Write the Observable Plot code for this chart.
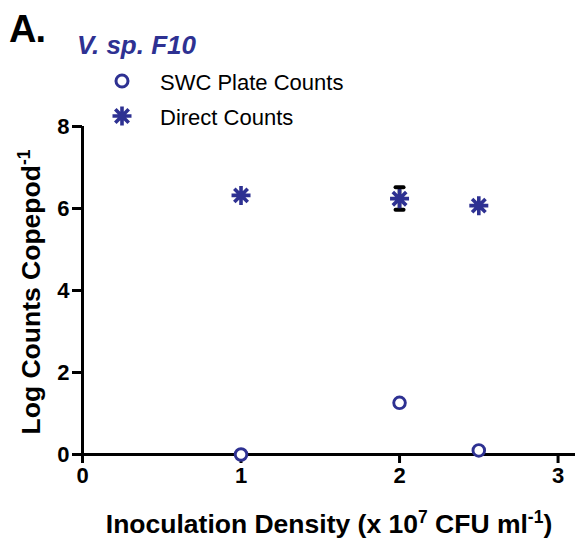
<!DOCTYPE html>
<html>
<head>
<meta charset="utf-8">
<script src="https://cdn.jsdelivr.net/npm/d3@7"></script>
<script src="https://cdn.jsdelivr.net/npm/@observablehq/plot@0.6"></script>
<style>
  html, body { margin: 0; padding: 0; background: #fff; }
  #wrap { position: relative; width: 577px; height: 543px; font-family: "Liberation Sans", Arial, sans-serif; }
  #wrap > svg { position: absolute; left: 0; top: 0; }
  .ov { position: absolute; white-space: nowrap; line-height: 1; }
  .sup { position: relative; top: -0.55em; font-size: 0.66em; }
</style>
</head>
<body>
<div id="wrap"></div>
<script>
// ---- data ----
const navy = "#2e3192";
const xTicks = [0, 1, 2, 3];
const yTicks = [0, 2, 4, 6, 8];
const densities = [1, 2, 2.5];
const swcPlateCounts = [0, 1.26, 0.1];
const directCounts = [6.32, 6.24, 6.07];
const directErrLow = [null, 5.97, null];
const directErrHigh = [null, 6.52, null];

const swc = densities.map((x, i) => ({x, y: swcPlateCounts[i]}));
const direct = densities.map((x, i) => ({x, y: directCounts[i], lo: directErrLow[i], hi: directErrHigh[i]}));
const errs = direct.filter(d => d.lo != null);
const caps = errs.flatMap(d => [{x: d.x, y: d.lo}, {x: d.x, y: d.hi}]);

// custom symbols
const asterisk8 = {
  draw(ctx, size) {
    const r = Math.sqrt(size / Math.PI);
    for (let k = 0; k < 4; k++) {
      const a = k * Math.PI / 4;
      const c = Math.cos(a) * r, s = Math.sin(a) * r;
      ctx.moveTo(c, s); ctx.lineTo(-c, -s);
    }
  }
};
const hcap = {
  draw(ctx, size) {
    const r = Math.sqrt(size / Math.PI);
    ctx.moveTo(-r, 0); ctx.lineTo(r, 0);
  }
};

const font = "Liberation Sans, Arial, sans-serif";

const chart = Plot.plot({
  width: 577,
  height: 543,
  marginLeft: 82,
  marginRight: 2,
  marginTop: 126,
  marginBottom: 89,
  style: {fontFamily: font, fontWeight: "bold", color: "#000", background: "transparent"},
  x: {domain: [0, 3.11]},
  y: {domain: [0, 8]},
  marks: [
    Plot.axisX({ticks: xTicks, tickSize: 9, tickPadding: 4, strokeWidth: 3, strokeOpacity: 1, fontSize: 22, fontWeight: "bold", label: null, tickFormat: d => String(d)}),
    Plot.axisY({ticks: yTicks, tickSize: 10, tickPadding: 3, strokeWidth: 3, strokeOpacity: 1, fontSize: 22, fontWeight: "bold", label: null, tickFormat: d => String(d)}),
    Plot.ruleY([0], {stroke: "#000", strokeWidth: 3}),
    Plot.ruleX([0], {y1: 0, y2: 8, stroke: "#000", strokeWidth: 3}),
    Plot.ruleX(errs, {x: "x", y1: "lo", y2: "hi", stroke: "#000", strokeWidth: 3.5}),
    Plot.dot(caps, {x: "x", y: "y", symbol: hcap, r: 4, stroke: "#000", strokeWidth: 4, strokeLinecap: "round"}),
    Plot.dot(swc, {x: "x", y: "y", r: 5.8, stroke: navy, fill: "#fff", strokeWidth: 2.9}),
    Plot.dot(direct, {x: "x", y: "y", symbol: asterisk8, r: 9.5, stroke: navy, strokeWidth: 3.6})
  ]
});

const wrap = document.getElementById("wrap");
wrap.appendChild(chart);

function ov(html, style) {
  const d = document.createElement("div");
  d.className = "ov";
  d.innerHTML = html;
  Object.assign(d.style, style);
  wrap.appendChild(d);
  return d;
}

// Panel letter and title
ov("A.", {left: "9px", top: "10px", fontSize: "38px", fontWeight: "bold", color: "#000", letterSpacing: "-1px"});
ov("V. sp. F10", {left: "77px", top: "32px", fontSize: "26px", fontWeight: "bold", fontStyle: "italic", color: navy});

// Legend
const circleSvg = `<svg width="20" height="20" style="position:absolute;left:-48px;top:-1px"><circle cx="10" cy="10" r="6" fill="#fff" stroke="${navy}" stroke-width="3"/></svg>`;
const astSvg = (() => {
  let p = "";
  for (let k = 0; k < 4; k++) {
    const a = k * Math.PI / 4, r = 9.5;
    p += `M${10 + Math.cos(a) * r},${10 + Math.sin(a) * r}L${10 - Math.cos(a) * r},${10 - Math.sin(a) * r}`;
  }
  return `<svg width="20" height="20" style="position:absolute;left:-48px;top:-1px"><path d="${p}" stroke="${navy}" stroke-width="3.6" fill="none"/></svg>`;
})();
ov(circleSvg + "SWC Plate Counts", {left: "160px", top: "72px", fontSize: "22px", color: "#000"});
ov(astSvg + "Direct Counts", {left: "160px", top: "107px", fontSize: "22px", color: "#000"});

// Axis titles
ov('Log Counts Copepod<span class="sup">-1</span>', {left: "31px", top: "292px", fontSize: "26.5px", fontWeight: "bold", color: "#000", transform: "translate(-50%,-50%) rotate(-90deg)"});
ov('Inoculation Density (x 10<span class="sup">7</span> CFU ml<span class="sup">-1</span>)', {left: "329px", top: "511px", fontSize: "26.5px", fontWeight: "bold", color: "#000", transform: "translateX(-50%)"});
</script>
</body>
</html>
